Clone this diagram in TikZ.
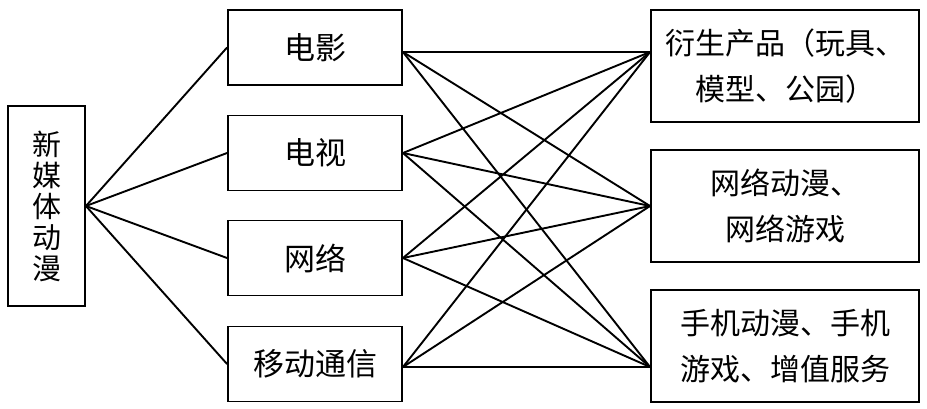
\documentclass[tikz,border=0pt]{standalone}
\usepackage{fontspec}
\newfontfamily\cjk{Noto Sans CJK SC}
\usetikzlibrary{positioning, calc}

\begin{document}
\begin{tikzpicture}[x=1pt, y=-1pt,
    box/.style={draw, line width=1.9pt, inner sep=0pt, align=center,
        font=\cjk\fontsize{30}{46}\selectfont},
    link/.style={line width=1.9pt}]
\useasboundingbox (0,0) rectangle (927,408);

% Source
\node[box, minimum width=77pt, minimum height=200pt,
    font=\cjk\fontsize{29}{31}\selectfont] (xmt) at (46.5,206) {新\\媒\\体\\动\\漫};

% Media
\node[box, minimum width=174pt, minimum height=75pt, font=\cjk\fontsize{31}{31}\selectfont] (dy) at (315,47.5) {电影};
\node[box, minimum width=174pt, minimum height=75pt, font=\cjk\fontsize{31}{31}\selectfont] (ds) at (315,153) {电视};
\node[box, minimum width=174pt, minimum height=75pt, font=\cjk\fontsize{31}{31}\selectfont] (wl) at (315,258) {网络};
\node[box, minimum width=174pt, minimum height=75pt, font=\cjk\fontsize{31}{31}\selectfont] (yd) at (315,364) {移动通信};

% Products
\node[box, minimum width=268pt, minimum height=112pt, text width=262pt] (ys) at (785,66)
    {衍生产品（玩具、\\模型、公园）};
\node[box, minimum width=268pt, minimum height=112pt, text width=262pt] (wd) at (785,206)
    {网络动漫、\\网络游戏};
\node[box, minimum width=268pt, minimum height=112pt, text width=262pt] (sj) at (785,346)
    {手机动漫、手机\\游戏、增值服务};

% Connection points
\coordinate (p1) at ([yshift=-4.5pt]dy.east);
\coordinate (p2) at (ds.east);
\coordinate (p3) at (wl.east);
\coordinate (p4) at ([yshift=-3pt]yd.east);
\coordinate (q1) at (ys.west |- p1);
\coordinate (q2) at (wd.west);
\coordinate (q3) at (sj.west |- p4);

% Source to media
\foreach \m in {dy, ds, wl, yd}
    \draw[link] (xmt.east) -- (\m.west);

% Media to products
\foreach \p in {p1, p2, p3, p4}
    \foreach \q in {q1, q2, q3}
        \draw[link] (\p) -- (\q);
\end{tikzpicture}
\end{document}
